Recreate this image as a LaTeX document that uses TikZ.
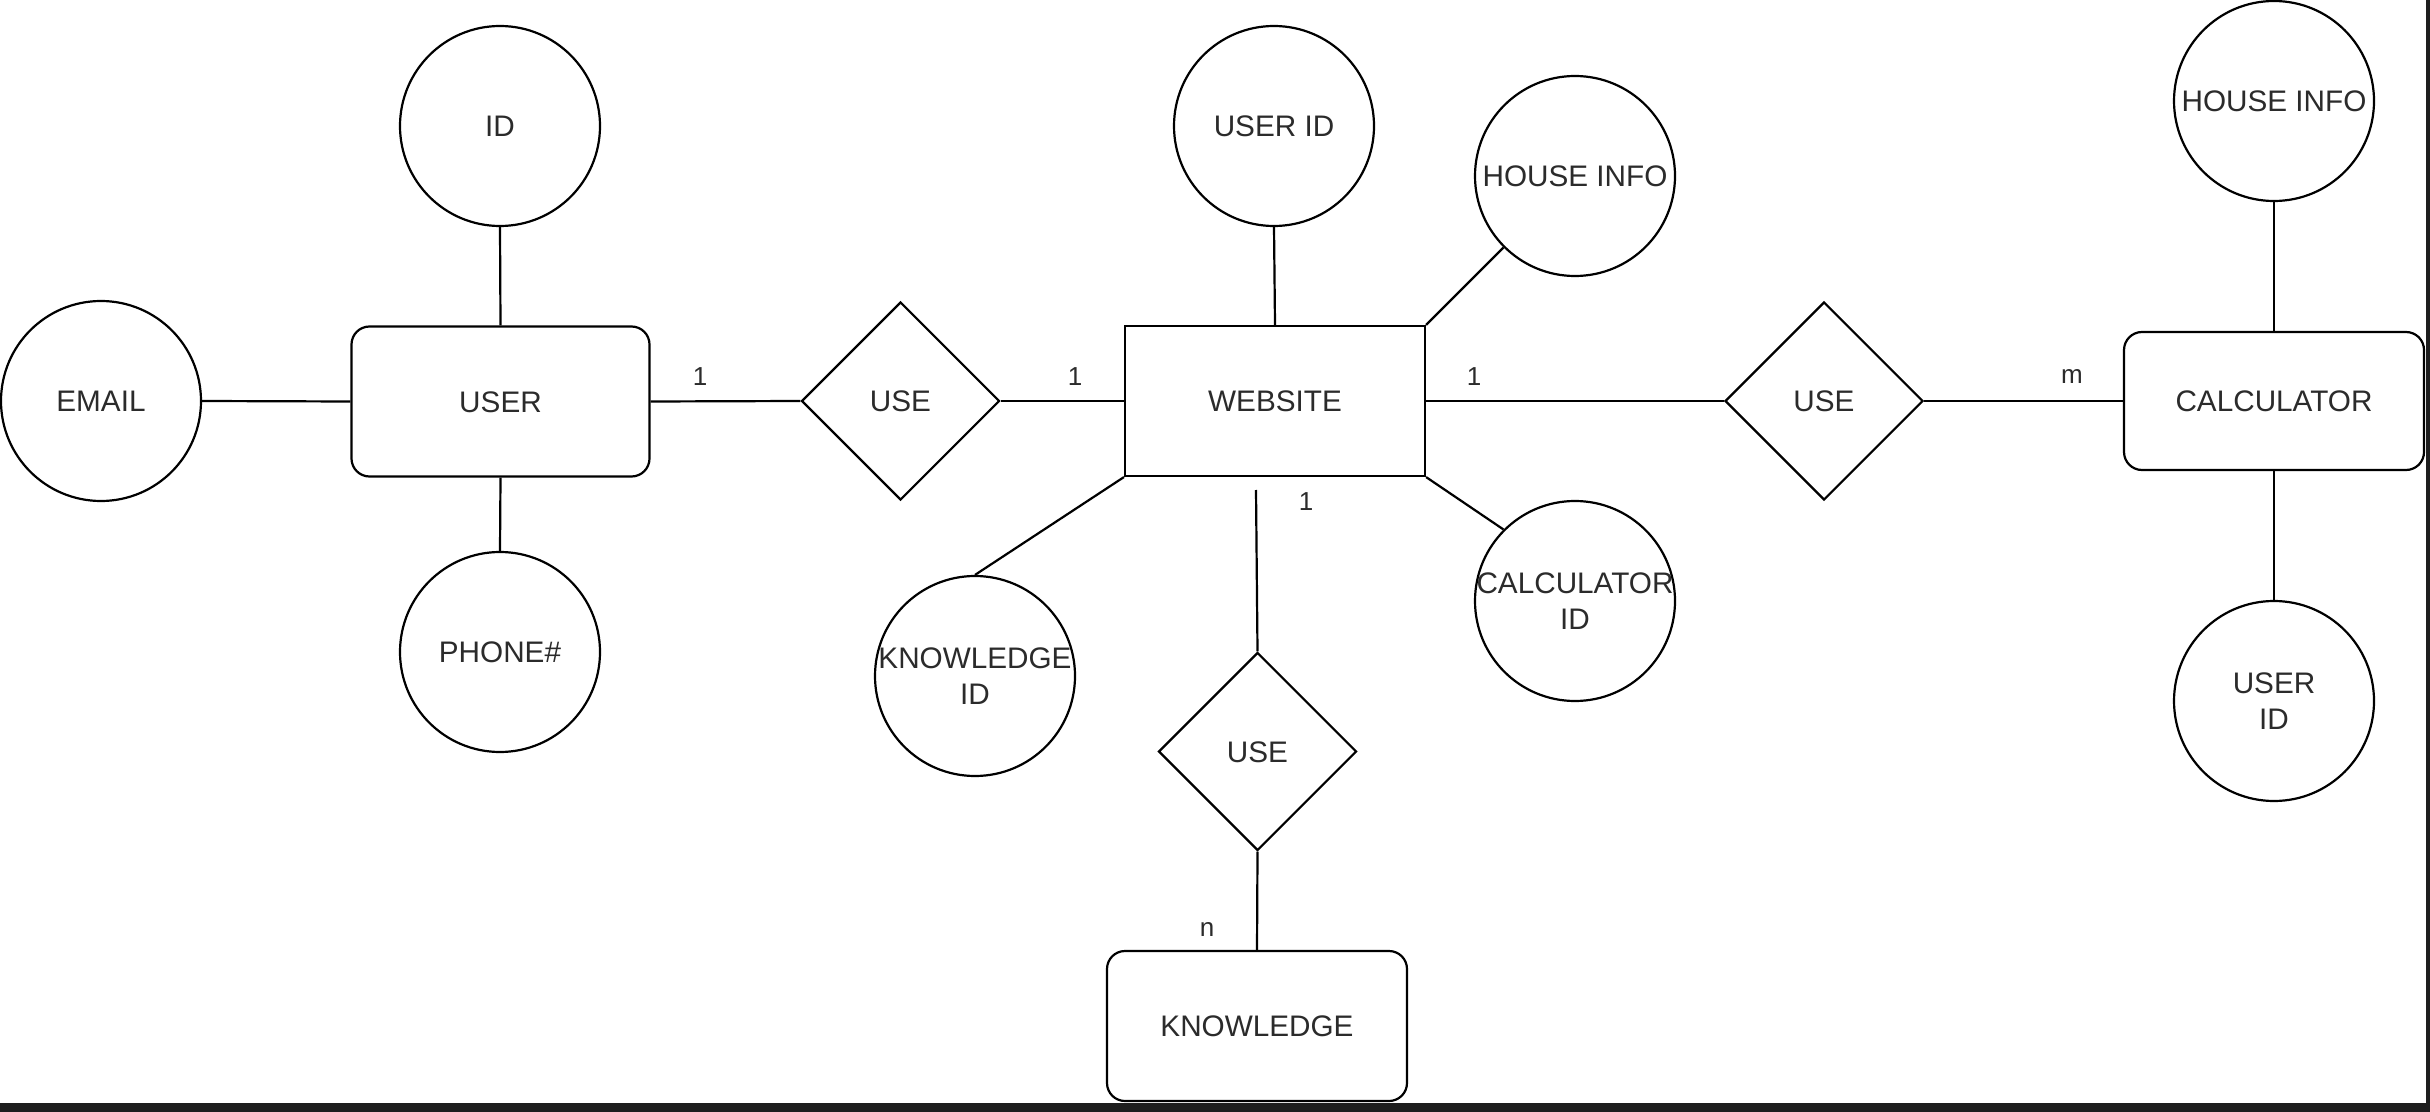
\documentclass[tikz,border=0pt]{standalone}
\usepackage{fontspec}
\setmainfont{Liberation Sans}
\usetikzlibrary{shapes.geometric}
\definecolor{txtc}{HTML}{2B2B2B}
\definecolor{barc}{HTML}{1E1E1E}
\newcommand{\ctext}[1]{\raisebox{-5.4pt}[0pt][0pt]{\makebox[0pt]{\begin{tabular}{@{}c@{}}#1\end{tabular}}}}
\begin{document}
\begin{tikzpicture}[x=0.5pt,y=-0.5pt,
  every node/.style={font=\fontsize{14.85}{17.8}\selectfont, text=txtc},
  attr/.style={circle, draw=black, line width=1.1pt, minimum size=100pt, inner sep=0pt},
  rel/.style={diamond, draw=black, line width=1.1pt, minimum width=99pt, minimum height=99pt, inner sep=0pt},
  ent/.style={rectangle, draw=black, line width=1.1pt, rounded corners=9pt, minimum width=149pt, minimum height=75pt, inner sep=0pt},
  card/.style={font=\fontsize{13}{15.6}\selectfont, inner sep=0pt},
  conn/.style={draw=black, line width=1.1pt}
]
\useasboundingbox (0,0) rectangle (2430,1112);
\fill[white] (0,0) rectangle (2430,1112);

% entities
\node[ent] (user) at (500.5,401.5) {\ctext{USER}};
\node[ent, rounded corners=0pt, minimum width=150pt] (web) at (1275,401) {\ctext{WEBSITE}};
\node[ent, minimum width=150pt, minimum height=69pt] (calc) at (2274,401) {\ctext{CALCULATOR}};
\node[ent, minimum width=150pt] (know) at (1257,1026) {\ctext{KNOWLEDGE}};

% relationships
\node[rel] (use1) at (900.5,401) {\ctext{USE}};
\node[rel] (use2) at (1824,401) {\ctext{USE}};
\node[rel] (use3) at (1257.5,751.5) {\ctext{USE}};

% attributes
\node[attr] (email) at (101,401) {\ctext{EMAIL}};
\node[attr] (id) at (500,126) {\ctext{ID}};
\node[attr] (phone) at (500,652) {\ctext{PHONE\#}};
\node[attr] (uid1) at (1274,126) {\ctext{USER ID}};
\node[attr] (hi1) at (1575,176) {\ctext{HOUSE INFO}};
\node[attr] (cid) at (1575,601) {\ctext{CALCULATOR\\ID}};
\node[attr] (kid) at (975,676) {\ctext{KNOWLEDGE\\ID}};
\node[attr] (hi2) at (2274,101) {\ctext{HOUSE INFO}};
\node[attr] (uid2) at (2274,701) {\ctext{USER\\ID}};

\coordinate (dang) at (1256,490);

% connectors
\draw[conn] (email.east) -- (user.west);
\draw[conn] (id.south) -- (user.north);
\draw[conn] (user.south) -- (phone.north);
\draw[conn] (user.east) -- (use1.west);
\draw[conn] (use1.east) -- (web.west);
\draw[conn] (uid1.south) -- (web.north);
\draw[conn] (web.north east) -- (hi1.225);
\draw[conn] (web.south west) -- (kid.north);
\draw[conn] (web.south east) -- (cid.135);
\draw[conn] (dang) -- (use3.north);
\draw[conn] (use3.south) -- (know.north);
\draw[conn] (web.east) -- (use2.west);
\draw[conn] (use2.east) -- (calc.west);
\draw[conn] (hi2.south) -- (calc.north);
\draw[conn] (calc.south) -- (uid2.north);

% cardinalities
\node[card] (c1) at (700,377) {1};
\node[card] (c2) at (1075,377) {1};
\node[card] (c3) at (1474,377) {1};
\node[card] (c4) at (2072,377) {m};
\node[card] (c5) at (1306,502) {1};
\node[card] (c6) at (1207,929) {n};

% dark frame edges
\fill[barc] (0,1103) rectangle (2430,1112);
\fill[barc] (2426,0) rectangle (2430,1112);
\end{tikzpicture}
\end{document}
